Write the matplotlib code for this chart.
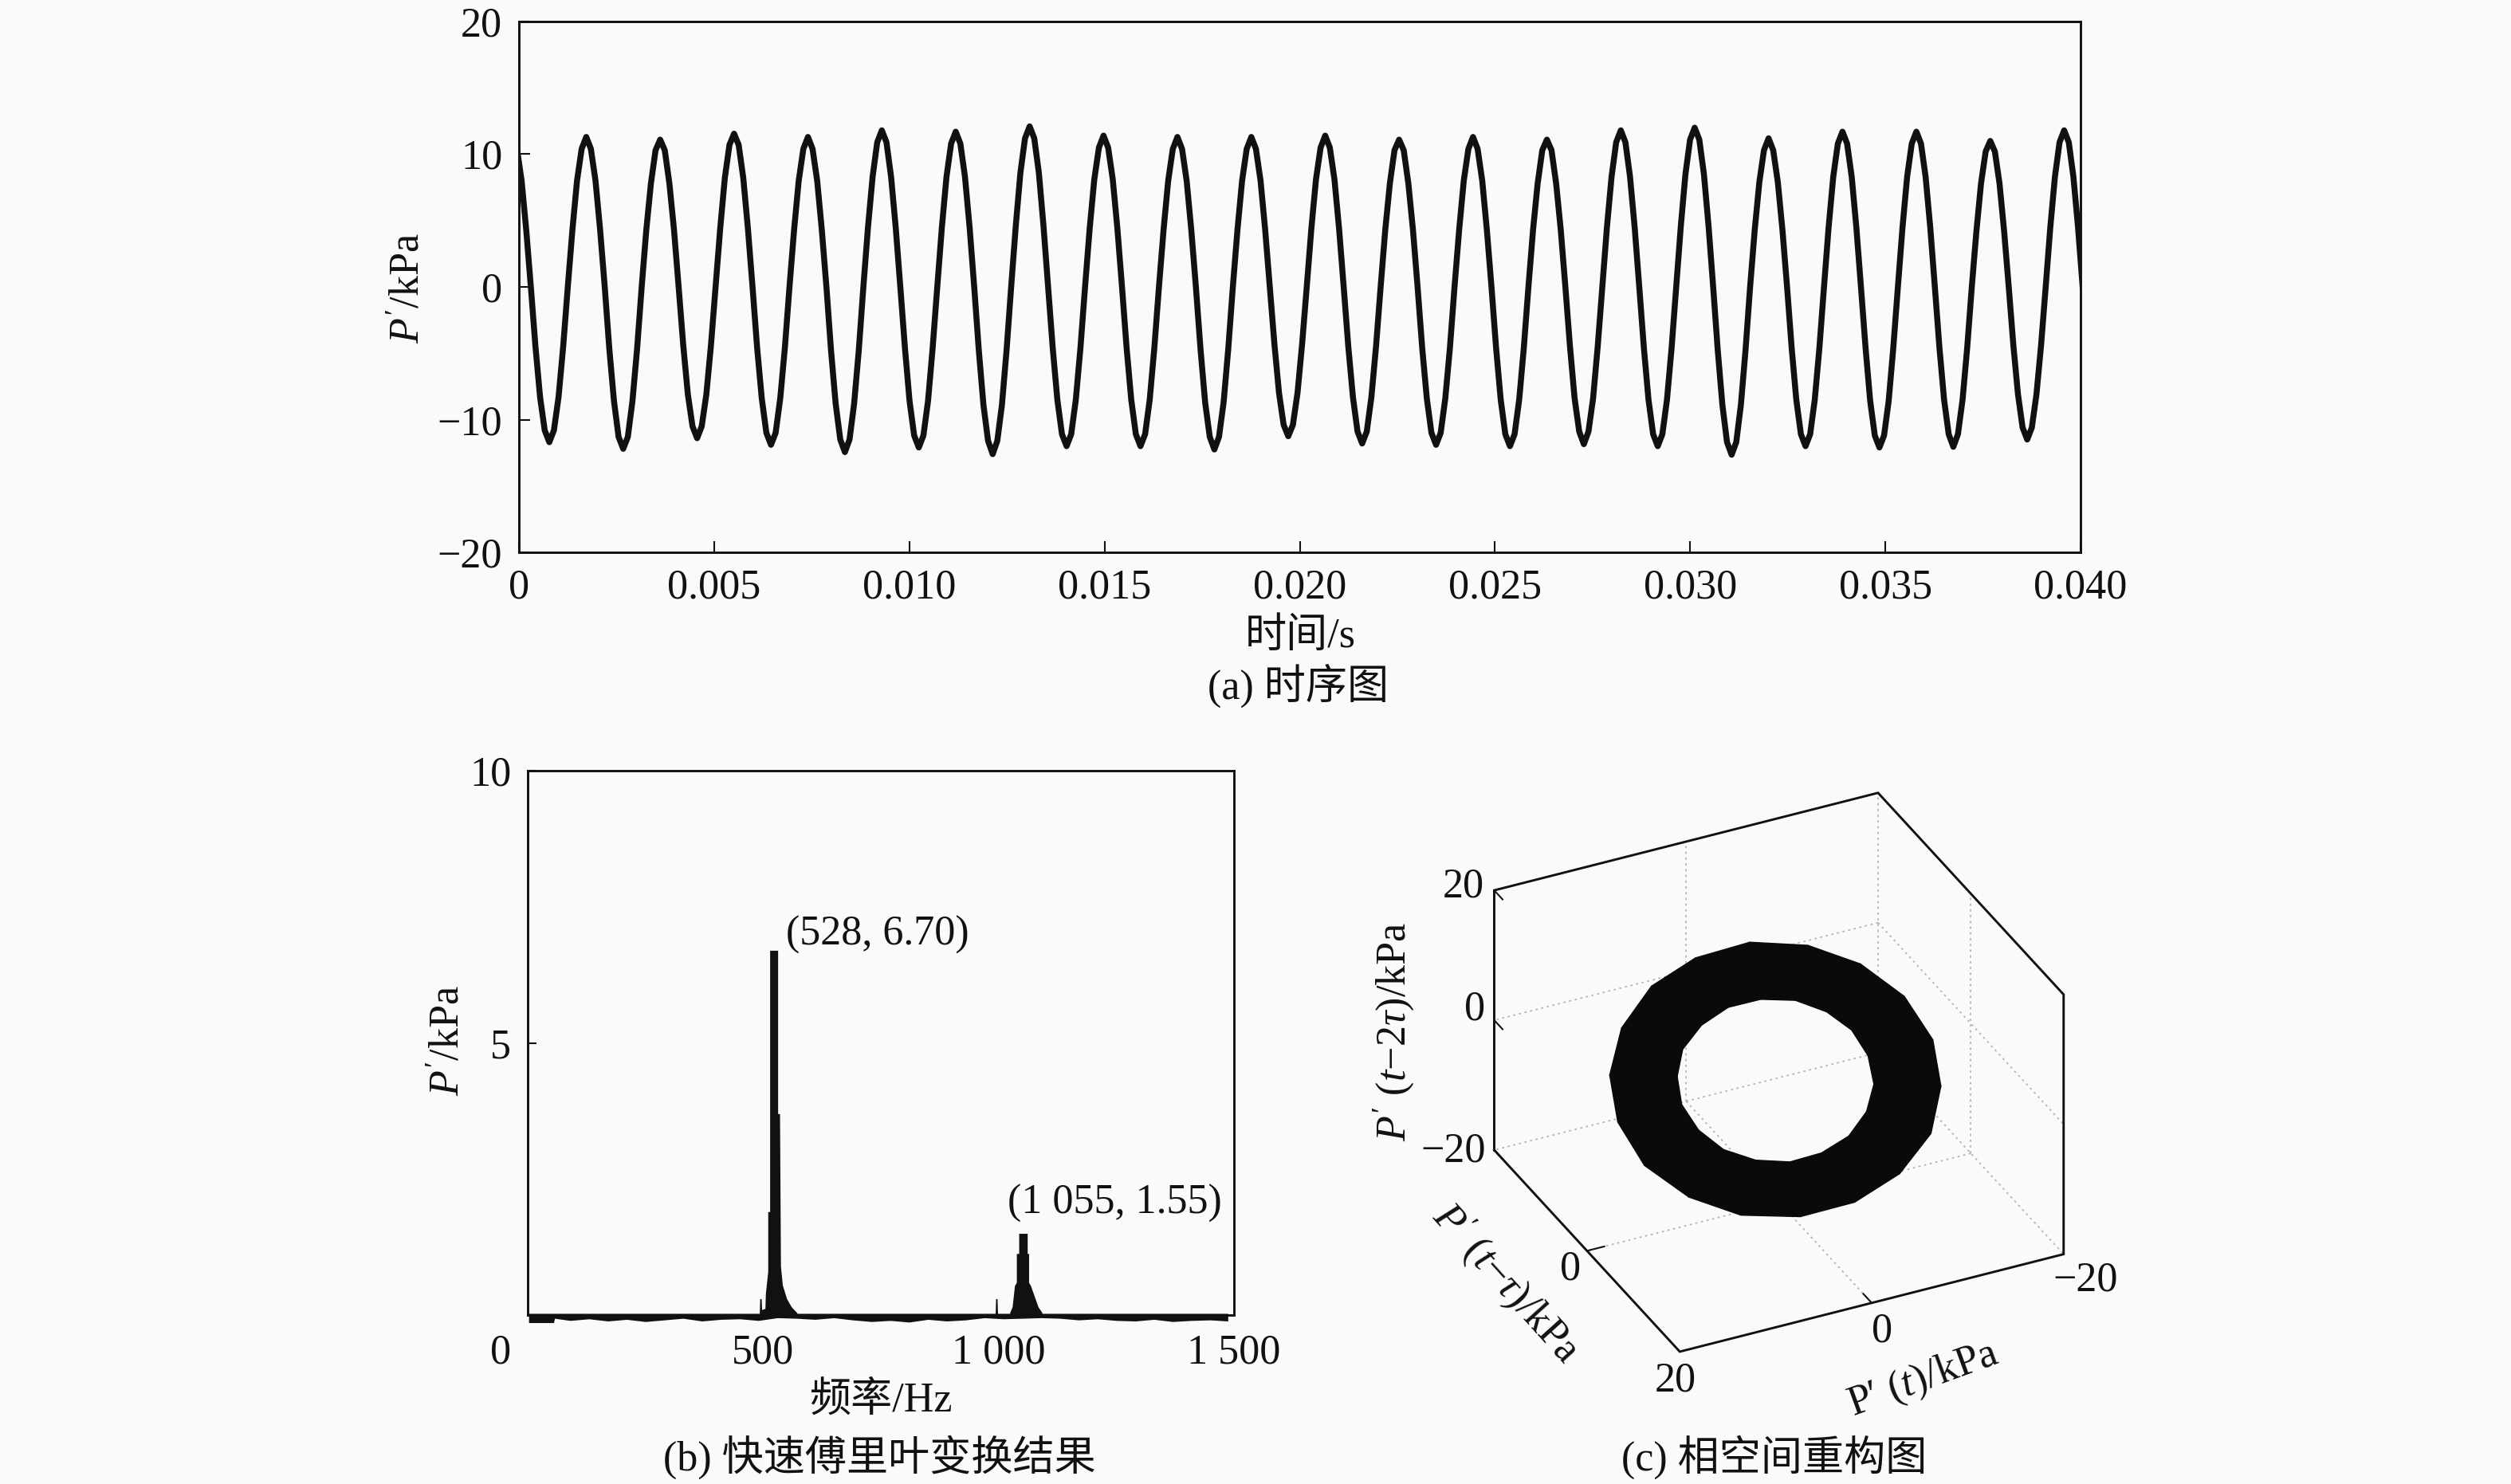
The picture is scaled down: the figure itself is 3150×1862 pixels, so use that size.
import matplotlib
matplotlib.use('Agg')
import matplotlib.pyplot as plt
import numpy as np
from matplotlib.transforms import ScaledTranslation
from mpl_toolkits.mplot3d.art3d import Poly3DCollection

plt.rcParams['font.family'] = ['Liberation Serif', 'Noto Sans CJK SC']
plt.rcParams['mathtext.fontset'] = 'custom'
plt.rcParams['mathtext.rm'] = 'Liberation Serif'
plt.rcParams['mathtext.it'] = 'Liberation Serif:italic'
plt.rcParams['axes.unicode_minus'] = True

W, H = 3150, 1862
BG = '#fafafa'
INK = '#111111'
FS = 37.5

# (a) pressure signal, one row per cycle, sample step sample_dt
sample_dt = 0.0001183
sample_t0 = -0.00005
pressure = [
    10.4, 8.0, 4.3, 0.0, -4.5, -8.3, -10.8, -11.7,
    -10.8, -8.3, -4.5, 0, 4.3, 8.0, 10.4, 11.3, 10.4, 8.0, 4.3, 0, -4.7, -8.6, -11.3, -12.2,
    -11.3, -8.6, -4.7, 0, 4.3, 7.8, 10.3, 11.1, 10.3, 7.8, 4.3, 0, -4.4, -8.1, -10.5, -11.4,
    -10.5, -8.1, -4.4, 0, 4.4, 8.2, 10.7, 11.55, 10.7, 8.2, 4.4, 0, -4.6, -8.4, -11.0, -11.9,
    -11.0, -8.4, -4.6, 0, 4.3, 8.0, 10.4, 11.3, 10.4, 8.0, 4.3, 0, -4.8, -8.8, -11.5, -12.45,
    -11.5, -8.8, -4.8, 0, 4.5, 8.3, 10.9, 11.8, 10.9, 8.3, 4.5, 0, -4.6, -8.6, -11.2, -12.1,
    -11.2, -8.6, -4.6, 0, 4.5, 8.3, 10.8, 11.7, 10.8, 8.3, 4.5, 0, -4.8, -8.9, -11.6, -12.6,
    -11.6, -8.9, -4.8, 0, 4.6, 8.6, 11.2, 12.1, 11.2, 8.6, 4.6, 0, -4.6, -8.5, -11.1, -12.0,
    -11.1, -8.5, -4.6, 0, 4.4, 8.1, 10.5, 11.4, 10.5, 8.1, 4.4, 0, -4.6, -8.5, -11.1, -12.0,
    -11.1, -8.5, -4.6, 0, 4.3, 8.0, 10.4, 11.3, 10.4, 8.0, 4.3, 0, -4.7, -8.7, -11.3, -12.25,
    -11.3, -8.7, -4.7, 0, 4.3, 8.0, 10.4, 11.3, 10.4, 8.0, 4.3, 0, -4.3, -8.0, -10.4, -11.25,
    -10.4, -8.0, -4.3, 0, 4.4, 8.1, 10.5, 11.4, 10.5, 8.1, 4.4, 0, -4.5, -8.3, -10.9, -11.8,
    -10.9, -8.3, -4.5, 0, 4.3, 7.8, 10.3, 11.1, 10.3, 7.8, 4.3, 0, -4.6, -8.4, -11.0, -11.9,
    -11.0, -8.4, -4.6, 0, 4.3, 8.0, 10.4, 11.3, 10.4, 8.0, 4.3, 0, -4.6, -8.5, -11.1, -12.0,
    -11.1, -8.5, -4.6, 0, 4.3, 7.8, 10.3, 11.1, 10.3, 7.8, 4.3, 0, -4.5, -8.4, -10.9, -11.85,
    -10.9, -8.4, -4.5, 0, 4.5, 8.3, 10.9, 11.8, 10.9, 8.3, 4.5, 0, -4.6, -8.5, -11.1, -12.0,
    -11.1, -8.5, -4.6, 0, 4.6, 8.5, 11.1, 12.0, 11.1, 8.5, 4.6, 0, -4.8, -8.9, -11.7, -12.65,
    -11.7, -8.9, -4.8, 0, 4.3, 7.9, 10.3, 11.2, 10.3, 7.9, 4.3, 0, -4.6, -8.5, -11.1, -12.0,
    -11.1, -8.5, -4.6, 0, 4.5, 8.3, 10.8, 11.7, 10.8, 8.3, 4.5, 0, -4.6, -8.6, -11.2, -12.1,
    -11.2, -8.6, -4.6, 0, 4.5, 8.3, 10.8, 11.7, 10.8, 8.3, 4.5, 0, -4.6, -8.5, -11.1, -12.05,
    -11.1, -8.5, -4.6, 0, 4.2, 7.8, 10.2, 11.0, 10.2, 7.8, 4.2, 0, -4.4, -8.1, -10.6, -11.5,
    -10.6, -8.1, -4.4, 0, 4.5, 8.3, 10.9, 11.8, 10.9, 8.3, 4.5, 0,
]
time_ticks = [0, 0.005, 0.010, 0.015, 0.020, 0.025, 0.030, 0.035, 0.040]
time_labels = ['0', '0.005', '0.010', '0.015', '0.020', '0.025', '0.030', '0.035', '0.040']
p_ticks = [-20, -10, 0, 10, 20]
p_labels = ['\u221220', '\u221210', '0', '10', '20']

# (b) spectrum outline
peak1_f = [492, 493, 496, 497, 504, 505, 510, 510, 514, 514, 531, 531, 535, 537, 541, 550, 560, 572]
peak1_a = [.03, .3, .3, .1, .12, .4, .8, 1.9, 1.9, 6.7, 6.7, 3.7, 3.7, .9, .55, .3, .15, .04]
spike_f = [993, 994, 997, 998]
spike_a = [.03, .3, .3, .03]
peak2_f = [1024, 1029, 1034, 1038, 1038, 1043, 1043, 1061, 1061, 1064, 1064, 1068, 1084, 1092]
peak2_a = [.05, .15, .54, .6, 1.13, 1.13, 1.5, 1.5, 1.13, 1.13, .6, .54, .15, .05]
noise_f = [2, 55, 57, 90, 130, 170, 210, 250, 290, 330, 370, 410, 450, 490, 530, 570,
           610, 650, 690, 730, 770, 810, 850, 890, 930, 970, 1010, 1050, 1090, 1130, 1170,
           1210, 1250, 1290, 1330, 1370, 1410, 1450, 1487]
noise_lo = [-.14, -.14, -.06, -.1, -.07, -.11, -.08, -.12, -.09, -.06, -.11, -.08, -.07, -.1, -.05, -.06,
            -.08, -.05, -.09, -.12, -.1, -.13, -.08, -.11, -.09, -.05, -.07, -.06, -.05, -.06, -.09,
            -.07, -.1, -.11, -.08, -.12, -.1, -.09, -.11]
freq_ticks = [0, 500, 1000, 1500]
freq_labels = ['0', '500', '1 000', '1 500']
amp_ticks = [5, 10]
amp_labels = ['5', '10']

# (c) one cycle of P' on the outer and inner edge of the band, 20 deg apart
ring_outer = [13.2, 12.5, 10.1, 6.7, 2.2, -2.3, -6.6, -10.2, -12.4, -13.2, -12.4, -10.0, -6.6, -2.3, 2.3, 6.5, 10.0, 12.4]
ring_inner = [7.8, 7.3, 6.0, 3.9, 1.4, -1.3, -3.9, -6.0, -7.4, -7.8, -7.3, -6.0, -4.0, -1.4, 1.3, 3.9, 6.1, 7.3]
ring_center = [0.4, 0.0, -1.1]
delay_steps = 6
cube = 20
phase_ticks = [-20, 0, 20]


def px(x, y):
    return x / W, 1 - y / H


def add_ax(left, right, top, bottom, **kw):
    return fig.add_axes([left / W, 1 - bottom / H, (right - left) / W, (bottom - top) / H], **kw)


def label(x, y, s, **kw):
    fx, fy = px(x, y)
    kw.setdefault('fontsize', FS)
    fig.text(fx, fy, s, ha='center', va='center', color=INK, **kw)


fig = plt.figure(figsize=(W / 100, H / 100), dpi=100, facecolor=BG)

# panel a
ax = add_ax(651, 2610, 27, 693, facecolor=BG)
ax.plot(sample_t0 + np.arange(len(pressure)) * sample_dt, pressure, color=INK, lw=5.4, solid_joinstyle='round')
ax.set_xlim(0, 0.040)
ax.set_ylim(-20, 20)
ax.set_xticks(time_ticks, time_labels)
ax.set_yticks(p_ticks, p_labels)
ax.tick_params(direction='in', length=10, width=1.5, labelsize=FS, colors=INK)
ax.tick_params(axis='x', pad=15)
ax.tick_params(axis='y', pad=15)
for s in ax.spines.values():
    s.set_linewidth(2.1)
    s.set_color(INK)
label(512, 362, r"$P'$/kPa", rotation=90)
label(1631, 799, '时间/s')
label(1629, 860, '(a) 时序图')

# panel b
ax = add_ax(662, 1548, 967, 1650, facecolor=BG)
ax.fill_between(noise_f, noise_lo, 0.03, color=INK, lw=0, clip_on=False)
ax.fill_between(peak1_f, 0, peak1_a, color=INK, lw=0)
ax.fill_between(spike_f, 0, spike_a, color=INK, lw=0)
ax.fill_between(peak2_f, 0, peak2_a, color=INK, lw=0)
ax.set_xlim(0, 1500)
ax.set_ylim(0, 10)
ax.set_xticks(freq_ticks, freq_labels)
ax.set_yticks(amp_ticks, amp_labels)
ax.tick_params(direction='in', length=8, width=1.5, labelsize=FS, colors=INK)
ax.tick_params(axis='x', length=0, pad=17)
ax.tick_params(axis='y', pad=15)
zero = ax.get_xticklabels()[0]
zero.set_transform(zero.get_transform() + ScaledTranslation(-34 / 100, 0, fig.dpi_scale_trans))
for s in ax.spines.values():
    s.set_linewidth(2.1)
    s.set_color(INK)
ax.text(743, 6.98, '(528, 6.70)', fontsize=FS, ha='center', va='center', color=INK)
ax.text(1246, 2.05, '(1 055, 1.55)', fontsize=FS, ha='center', va='center', color=INK)
label(563, 1306, r"$P'$/kPa", rotation=90)
label(1105, 1757, '频率/Hz')
label(1103, 1828, '(b) 快速傅里叶变换结果')

# panel c
side = 823
ax3 = fig.add_axes([1809 / W, 94 / H, side / W, side / H], projection='3d', proj_type='ortho', computed_zorder=False)
ax3.set_box_aspect((1, 1, 0.716))
ax3.view_init(elev=31.7, azim=64.2)
ax3.set_xlim(-cube, cube, view_margin=0)
ax3.set_ylim(-cube, cube, view_margin=0)
ax3.set_zlim(-cube, cube, view_margin=0)
ax3.set_axis_off()
ax3.patch.set_alpha(0)

# dotted back edges and grid at 0
grid_lines = [
    ((-cube, -cube), (-cube, -cube), (-cube, cube)),
    ((-cube, cube), (-cube, -cube), (-cube, -cube)),
    ((-cube, -cube), (-cube, cube), (-cube, -cube)),
    ((0, 0), (-cube, cube), (-cube, -cube)),
    ((-cube, cube), (0, 0), (-cube, -cube)),
    ((0, 0), (-cube, -cube), (-cube, cube)),
    ((-cube, cube), (-cube, -cube), (0, 0)),
    ((-cube, -cube), (0, 0), (-cube, cube)),
    ((-cube, -cube), (-cube, cube), (0, 0)),
]
for gx, gy, gz in grid_lines:
    ax3.plot(gx, gy, gz, color='#b4b4b4', lw=1.3, ls=(0, (1.5, 2.5)), zorder=1)

outer = np.array(ring_outer)
inner = np.array(ring_inner)


def embed(p):
    return np.column_stack([p, np.roll(p, delay_steps), np.roll(p, 2 * delay_steps)]) + ring_center


po, pi_ = embed(outer), embed(inner)
quads = [[po[i], po[(i + 1) % len(po)], pi_[(i + 1) % len(po)], pi_[i]] for i in range(len(po))]
ax3.add_collection3d(Poly3DCollection(quads, facecolor='#0a0a0a', edgecolor='#0a0a0a', linewidth=1, zorder=2))

# box outline
box_x = [cube, cube, -cube, -cube, -cube, cube, cube]
box_y = [-cube, -cube, -cube, cube, cube, cube, -cube]
box_z = [-cube, cube, cube, cube, -cube, -cube, -cube]
ax3.plot(box_x, box_y, box_z, color=INK, lw=2.1, zorder=3, solid_joinstyle='miter')

# ticks
tick3 = 1.8
for v in phase_ticks:
    ax3.plot([cube, cube], [-cube, -cube + tick3], [v, v], color=INK, lw=1.5, zorder=3)
ax3.plot([0, 0], [cube, cube - tick3], [-cube, -cube], color=INK, lw=1.5, zorder=3)
ax3.plot([cube, cube - tick3], [0, 0], [-cube, -cube], color=INK, lw=1.5, zorder=3)

label(1836, 1112, '20')
label(1850, 1266, '0')
label(1823, 1444, '\u221220')
label(1970, 1592, '0')
label(2361, 1670, '0')
label(2102, 1732, '20')
label(2616, 1606, '\u221220')
label(1748, 1294, "$P'$ ($t$\u22122$\\tau$)/kPa", rotation=90)
label(1890, 1610, "$P'$ ($t$\u2212$\\tau$)/kPa", rotation=-48)
label(2413, 1731, "P\u2032 ($t$)/kPa", rotation=20)
label(2226, 1828, '(c) 相空间重构图')

fig.savefig('out.png', dpi=100, facecolor=BG)
